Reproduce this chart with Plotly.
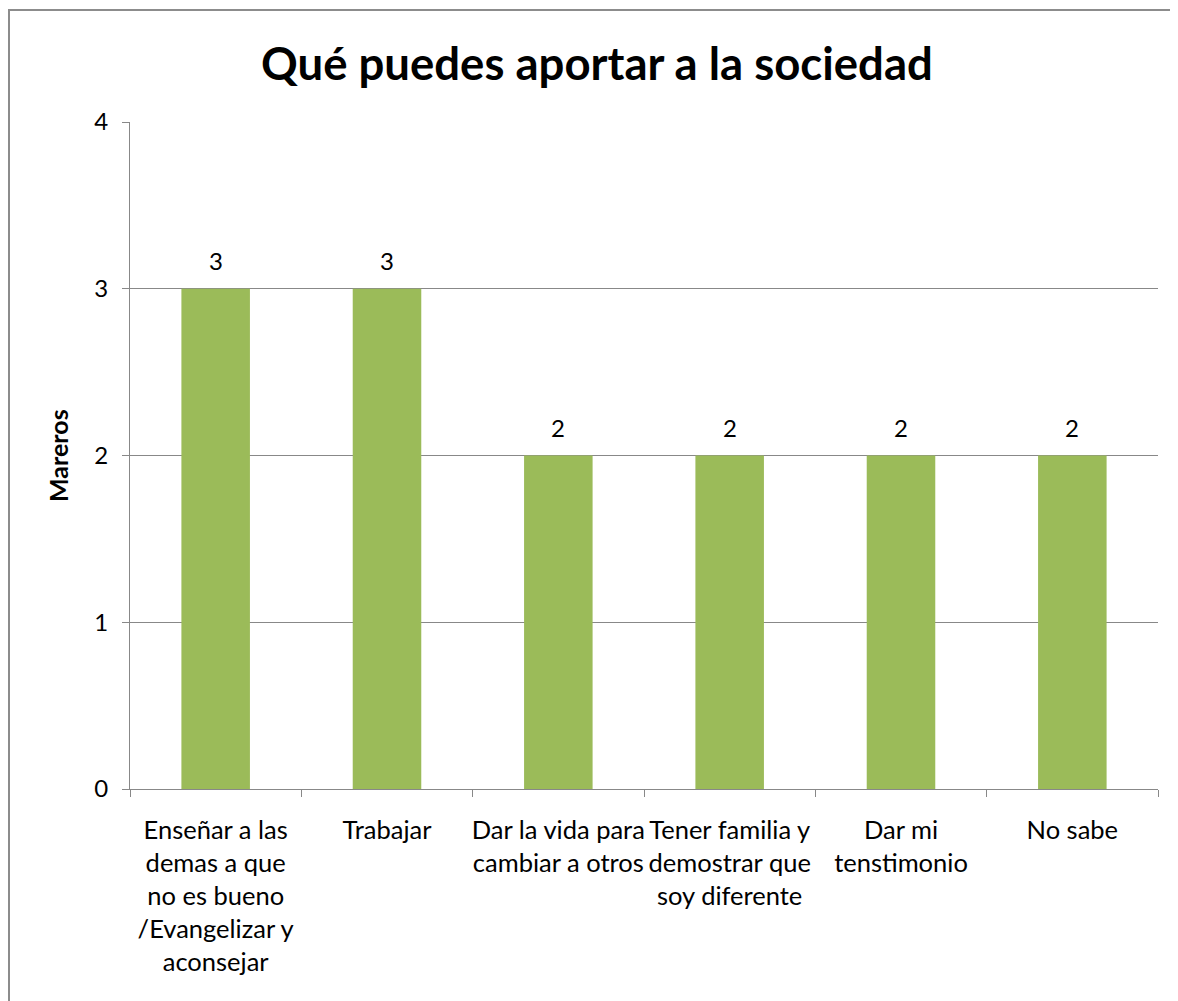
import plotly.graph_objects as go

categories = [
    "Enseñar a las<br>demas a que<br>no es bueno<br>/Evangelizar y<br>aconsejar",
    "Trabajar",
    "Dar la vida para<br>cambiar a otros",
    "Tener familia y<br>demostrar que<br>soy diferente",
    "Dar mi<br>tenstimonio",
    "No sabe",
]
values = [3, 3, 2, 2, 2, 2]
title_text = "Qué puedes aportar a la sociedad"
y_title = "Mareros"

OFF = 8  # default page body margin
W, H = 1178 - OFF, 1001 - OFF
L, R, T, B = 130 - OFF, 1158 - OFF, 122 - OFF, 789 - OFF
FONT = "Lato"
GRID = "#888888"

fig = go.Figure(go.Bar(
    x=categories, y=values,
    marker=dict(color="#9BBB59", line=dict(width=0)),
))

def px_x(p):
    return (p - OFF - L) / (R - L)

def px_y(p):
    return (B - (p - OFF)) / (B - T)

value_labels = [
    dict(x=c, y=v, xref="x", yref="y", text=str(v), showarrow=False,
         yanchor="middle", xanchor="center", yshift=28,
         font=dict(family=FONT, size=24, color="black"))
    for c, v in zip(categories, values)
]

fig.update_layout(
    width=W, height=H,
    margin=dict(l=L, r=W - R, t=T, b=H - B, pad=0, autoexpand=False),
    paper_bgcolor="white", plot_bgcolor="white",
    bargap=0.6, showlegend=False,
    font=dict(family=FONT, size=24, color="black"),
    annotations=value_labels + [
        dict(text="<b>" + title_text + "</b>", x=px_x(597), y=px_y(62),
             xref="paper", yref="paper", showarrow=False,
             font=dict(family=FONT, size=45.5, color="black"),
             xanchor="center", yanchor="middle"),
        dict(text="<b>" + y_title + "</b>", x=px_x(58), y=px_y(456),
             xref="paper", yref="paper", showarrow=False, textangle=-90,
             font=dict(family=FONT, size=25, color="black"),
             xanchor="center", yanchor="middle"),
    ],
    shapes=[
        dict(type="rect", xref="paper", yref="paper",
             x0=px_x(9), x1=px_x(1190), y0=px_y(1020), y1=px_y(10),
             line=dict(color="#8c8c8c", width=2)),
    ],
)

fig.update_xaxes(
    type="category", showgrid=False, showline=True, linecolor=GRID, linewidth=1,
    ticks="outside", tickson="boundaries", ticklen=7, tickcolor=GRID,
    tickfont=dict(family=FONT, size=25.5, color="black"),
    tickangle=0, automargin=False,
    ticklabelstandoff=18,
    fixedrange=True,
)
fig.update_yaxes(
    range=[0, 4], dtick=1, showgrid=True, gridcolor=GRID, gridwidth=1,
    showline=True, linecolor=GRID, linewidth=1,
    ticks="outside", ticklen=7, tickcolor=GRID,
    tickfont=dict(family=FONT, size=24, color="black"),
    ticklabelstandoff=9, automargin=False,
    zeroline=False, fixedrange=True,
)

fig.write_html("out.html")
